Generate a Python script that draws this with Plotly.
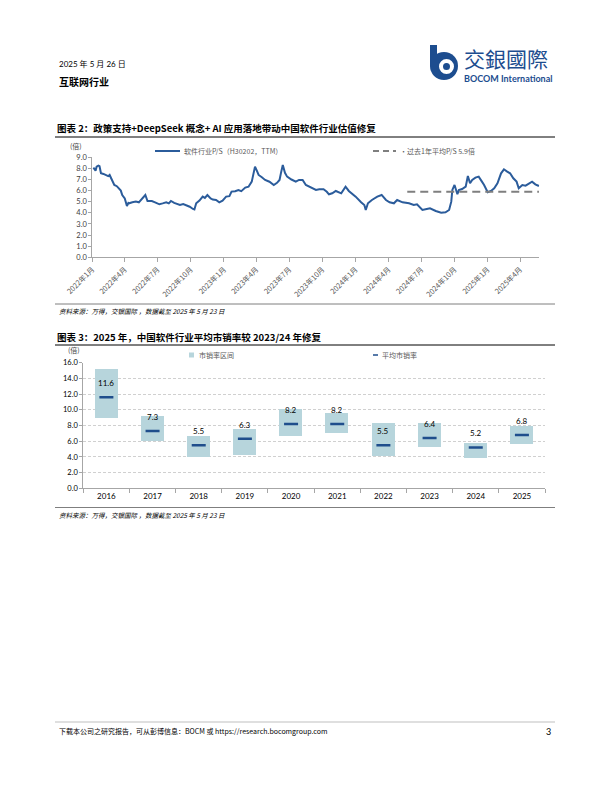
import plotly.graph_objects as go

# ---------------- data: chart 1 (software industry P/S, H30202, TTM) -------------
ps_dates = [
    "2022-01-04", "2022-01-07", "2022-01-10", "2022-01-13", "2022-01-18", "2022-01-21",
    "2022-01-25", "2022-02-01", "2022-02-09", "2022-02-14", "2022-02-18", "2022-02-23",
    "2022-03-03", "2022-03-10", "2022-03-16", "2022-03-21", "2022-03-25", "2022-04-01",
    "2022-04-04", "2022-04-07", "2022-04-11", "2022-04-13", "2022-04-22", "2022-05-02",
    "2022-05-10", "2022-05-19", "2022-05-28", "2022-06-03", "2022-06-15", "2022-06-24",
    "2022-07-06", "2022-07-15", "2022-07-25", "2022-08-01", "2022-08-07", "2022-08-16",
    "2022-09-01", "2022-09-10", "2022-09-19", "2022-09-28", "2022-10-07", "2022-10-11",
    "2022-10-16", "2022-10-25", "2022-11-03", "2022-11-09", "2022-11-16", "2022-11-25",
    "2022-12-01", "2022-12-10", "2022-12-19", "2022-12-28", "2023-01-07", "2023-01-16",
    "2023-01-22", "2023-02-01", "2023-02-10", "2023-02-18", "2023-03-01", "2023-03-10",
    "2023-03-19", "2023-03-23", "2023-03-28", "2023-04-02", "2023-04-07", "2023-04-16",
    "2023-04-25", "2023-05-07", "2023-05-19", "2023-05-28", "2023-06-04", "2023-06-08",
    "2023-06-13", "2023-06-19", "2023-06-25", "2023-07-07", "2023-07-19", "2023-07-28",
    "2023-08-07", "2023-08-16", "2023-08-25", "2023-09-04", "2023-09-13", "2023-09-22",
    "2023-10-04", "2023-10-13", "2023-10-19", "2023-10-28", "2023-11-07", "2023-11-22",
    "2023-12-04", "2023-12-13", "2023-12-22", "2024-01-01", "2024-01-16", "2024-01-25",
    "2024-01-29", "2024-02-04", "2024-02-15", "2024-03-01", "2024-03-13", "2024-03-25",
    "2024-04-04", "2024-04-16", "2024-04-25", "2024-05-10", "2024-05-28", "2024-06-10",
    "2024-06-19", "2024-07-04", "2024-07-16", "2024-07-25", "2024-08-10", "2024-08-25",
    "2024-09-06", "2024-09-16", "2024-09-22", "2024-09-25", "2024-10-01", "2024-10-09",
    "2024-10-13", "2024-10-22", "2024-11-01", "2024-11-07", "2024-11-13", "2024-11-19",
    "2024-11-28", "2024-12-07", "2024-12-16", "2024-12-22", "2025-01-01", "2025-01-10",
    "2025-01-19", "2025-01-28", "2025-02-07", "2025-02-15", "2025-02-24", "2025-03-04",
    "2025-03-13", "2025-03-22", "2025-03-28", "2025-04-07", "2025-04-16", "2025-04-25",
    "2025-05-04", "2025-05-13", "2025-05-23",
]
ps_values = [
    8.07, 7.86, 7.80, 8.16, 8.25, 8.20,
    7.56, 7.50, 7.41, 7.30, 7.41, 7.11,
    6.51, 6.40, 6.21, 6.00, 5.61, 5.30,
    4.95, 4.62, 4.90, 4.86, 4.95, 5.01,
    4.95, 5.31, 5.61, 5.07, 5.07, 4.95,
    4.77, 4.85, 4.95, 4.85, 5.07, 4.90,
    4.71, 4.80, 4.71, 4.55, 4.35, 4.30,
    4.86, 5.10, 5.46, 5.35, 5.61, 5.30,
    5.20, 5.16, 4.95, 5.10, 5.46, 5.50,
    5.91, 5.95, 6.06, 5.95, 6.27, 6.35,
    6.81, 7.50, 8.16, 7.80, 7.41, 7.20,
    6.96, 6.80, 6.51, 6.70, 6.96, 7.60,
    8.31, 7.60, 7.26, 7.00, 6.81, 6.96,
    6.96, 6.51, 6.36, 6.15, 6.06, 6.12,
    6.12, 5.90, 5.67, 5.76, 5.97, 5.76,
    6.36, 5.97, 5.76, 5.46, 4.95, 4.71,
    4.26, 4.86, 5.16, 5.46, 5.61, 5.16,
    4.95, 4.86, 5.16, 4.95, 4.86, 4.71,
    4.77, 4.26, 4.35, 4.41, 4.17, 4.02,
    4.05, 4.26, 5.01, 6.06, 6.51, 5.67,
    6.06, 6.15, 6.36, 7.32, 6.66, 6.96,
    7.17, 7.26, 6.81, 6.51, 5.85, 5.97,
    6.21, 6.66, 7.56, 7.92, 7.71, 7.56,
    7.11, 6.81, 6.21, 6.51, 6.45, 6.66,
    6.81, 6.57, 6.42,
]
avg_dates = ["2024-05-23", "2025-05-23"]
avg_values = [5.9, 5.9]

tick_dates = ["2022-01-01", "2022-04-01", "2022-07-01", "2022-10-01",
              "2023-01-01", "2023-04-01", "2023-07-01", "2023-10-01",
              "2024-01-01", "2024-04-01", "2024-07-01", "2024-10-01",
              "2025-01-01", "2025-04-01"]
tick_labels = ["2022年1月", "2022年4月", "2022年7月", "2022年10月",
               "2023年1月", "2023年4月", "2023年7月", "2023年10月",
               "2024年1月", "2024年4月", "2024年7月", "2024年10月",
               "2025年1月", "2025年4月"]

# ---------------- data: chart 2 (P/S range and average by year) ---------------
years = ["2016", "2017", "2018", "2019", "2020", "2021", "2022", "2023", "2024", "2025"]
ps_low = [9.0, 6.1, 4.0, 4.3, 6.7, 7.1, 4.2, 5.3, 3.9, 5.7]
ps_high = [15.2, 9.2, 6.7, 7.6, 10.1, 9.6, 8.3, 8.3, 5.8, 8.0]
ps_avg = [11.6, 7.3, 5.5, 6.3, 8.2, 8.2, 5.5, 6.4, 5.2, 6.8]

# ---------------- helpers ----------------
OFF = 8              # page body margin offset
W, H = 612 - OFF, 792 - OFF
def px(x):
    return (x - OFF) / W
def py(y):
    return 1 - (y - OFF) / H

CJK = "Noto Sans CJK SC"
LAT = "Lato, 'Noto Sans CJK SC'"
LINE_BLUE = "#2b5c9b"
BOX_COL = "#b7d5dc"
AVG_COL = "#1f4e8c"
LOGO_BLUE = "#1d4d8f"

fig = go.Figure()

# chart 1 traces
fig.add_trace(go.Scatter(x=ps_dates, y=ps_values, mode="lines",
                         line=dict(color=LINE_BLUE, width=2),
                         xaxis="x", yaxis="y", showlegend=False, hoverinfo="skip"))
fig.add_trace(go.Scatter(x=avg_dates, y=avg_values, mode="lines",
                         line=dict(color="#7f7f7f", width=2, dash="8px,5px"),
                         xaxis="x", yaxis="y", showlegend=False, hoverinfo="skip"))

# chart 2 traces
fig.add_trace(go.Bar(x=years, y=[h - l for h, l in zip(ps_high, ps_low)], base=ps_low,
                     width=0.5, marker=dict(color=BOX_COL, line=dict(width=0)),
                     xaxis="x2", yaxis="y2", showlegend=False, hoverinfo="skip"))
fig.add_trace(go.Scatter(x=years, y=ps_avg, mode="markers",
                         marker=dict(symbol="line-ew", size=10,
                                     line=dict(color=AVG_COL, width=2.5)),
                         xaxis="x2", yaxis="y2", showlegend=False, hoverinfo="skip"))

annotations = []
shapes = []

def text(x, y, s, size, color="#000", bold=False, italic=False, anchor="left", family=CJK, yanchor="middle"):
    t = s
    if bold:
        t = "<b>" + t + "</b>"
    if italic:
        t = "<i>" + t + "</i>"
    annotations.append(dict(x=px(x), y=py(y), xref="paper", yref="paper", text=t,
                            showarrow=False, xanchor=anchor, yanchor=yanchor,
                            font=dict(size=size, color=color, family=family)))

def hline(x0, x1, y, color="#000", width=1, dash=None):
    ln = dict(color=color, width=width)
    if dash:
        ln["dash"] = dash
    shapes.append(dict(type="line", xref="paper", yref="paper",
                       x0=px(x0), x1=px(x1), y0=py(y), y1=py(y), line=ln))

# header
text(57, 64, "2025 年 5 月 26 日", 8, family=LAT)
text(57, 81, "互联网行业", 10, bold=True)

# logo
shapes.append(dict(type="circle", xref="paper", yref="paper",
                   x0=px(430), x1=px(458), y0=py(80), y1=py(52),
                   fillcolor=LOGO_BLUE, line=dict(width=0)))
shapes.append(dict(type="rect", xref="paper", yref="paper",
                   x0=px(430), x1=px(437), y0=py(66), y1=py(45),
                   fillcolor=LOGO_BLUE, line=dict(width=0)))
shapes.append(dict(type="circle", xref="paper", yref="paper",
                   x0=px(439), x1=px(454), y0=py(74), y1=py(59),
                   fillcolor="white", line=dict(width=0)))
shapes.append(dict(type="circle", xref="paper", yref="paper",
                   x0=px(443), x1=px(450), y0=py(70), y1=py(63),
                   fillcolor=LOGO_BLUE, line=dict(width=0)))
annotations.append(dict(
    x=px(462), y=py(41), xref="paper", yref="paper", showarrow=False,
    xanchor="left", yanchor="top", align="left",
    text="<span style='font-size:21px'>交銀國際</span><br>"
         "<span style='font-size:9px;font-family:Lato'><b>BOCOM International</b></span>",
    font=dict(size=11.8, color=LOGO_BLUE, family="Noto Sans CJK TC")))

# chart 1 title
text(55, 128, "图表 2：政策支持+DeepSeek 概念+ AI 应用落地带动中国软件行业估值修复", 9.5, bold=True)
hline(55, 555, 137, color="#000", width=1)
text(68, 146, "(倍)", 7, color="#404040")
# chart 1 legend
hline(155, 180, 151, color=LINE_BLUE, width=2)
text(182, 151, "软件行业P/S（H30202，TTM）", 7, color="#595959")
hline(373, 396, 151, color="#7f7f7f", width=2, dash="6px,4px")
text(398, 151, "·过去1年平均P/S 5.9倍", 7, color="#595959")
# chart 1 source
hline(55, 555, 304, color="#7f7f7f", width=1)
text(57, 311, "资料来源：万得，交银国际 ，数据截至 2025 年 5 月 23 日", 6.5, color="#000", italic=True)

# chart 2 title
text(55, 337, "图表 3：2025 年，中国软件行业平均市销率较 2023/24 年修复", 9.5, bold=True)
hline(55, 555, 345, color="#000", width=1)
text(66, 350, "(倍)", 7, color="#404040")
# chart 2 legend
shapes.append(dict(type="rect", xref="paper", yref="paper",
                   x0=px(189), x1=px(194), y0=py(357.5), y1=py(352.5),
                   fillcolor=BOX_COL, line=dict(width=0)))
text(197, 355, "市销率区间", 7, color="#595959")
hline(373, 378, 355, color=AVG_COL, width=1.5)
text(380, 355, "平均市销率", 7, color="#595959")
# avg labels (category index positions)
for i, a in enumerate(ps_avg):
    annotations.append(dict(x=i, y=a, xref="x2", yref="y2", text=f"{a:.1f}",
                            showarrow=False, yshift=14, xanchor="center", yanchor="middle",
                            font=dict(size=8, color="#000", family=LAT)))
# chart 2 source
hline(55, 555, 507.5, color="#7f7f7f", width=1)
text(57, 515, "资料来源：万得，交银国际 ，数据截至 2025 年 5 月 23 日", 6.5, color="#000", italic=True)

# footer
hline(55, 555, 722, color="#bfbfbf", width=1)
text(57, 731, "下载本公司之研究报告，可从彭博信息：BOCM 或 https://research.bocomgroup.com", 7, color="#000")
text(553, 731, "3", 9, color="#000", anchor="right", family=LAT)

axis_common = dict(showgrid=False, zeroline=False, showline=True, linecolor="#a6a6a6",
                   linewidth=1, ticks="outside", tickcolor="#a6a6a6", automargin=False)

fig.update_layout(
    width=W, height=H,
    margin=dict(l=0, r=0, t=0, b=0, pad=0, autoexpand=False),
    paper_bgcolor="white", plot_bgcolor="white",
    showlegend=False,
    bargap=0,
    xaxis=dict(domain=[px(92.3), px(539.3)], anchor="y", type="date",
               range=["2022-01-01", "2025-05-24"],
               tickvals=tick_dates, ticktext=tick_labels, tickangle=-45,
               ticklen=4, tickfont=dict(size=7.3, color="#595959", family=CJK),
               **axis_common),
    yaxis=dict(domain=[py(257.3), py(157.3)], anchor="x", range=[0, 9],
               dtick=1, tickformat=".1f", ticklen=3,
               tickfont=dict(size=7.5, color="#404040", family=LAT),
               **axis_common),
    xaxis2=dict(domain=[px(83.3), px(545)], anchor="y2", type="category",
                range=[-0.5, 9.5], tickson="boundaries", ticklen=4,
                tickfont=dict(size=8, color="#000", family=LAT),
                **axis_common),
    yaxis2=dict(domain=[py(488.3), py(362.7)], anchor="x2", range=[0, 16],
                dtick=2, tickformat=".1f", ticklen=3,
                tickfont=dict(size=7.5, color="#000", family=LAT),
                zeroline=False, showline=True, linecolor="#a6a6a6", linewidth=1,
                ticks="outside", tickcolor="#a6a6a6", automargin=False,
                showgrid=True, gridcolor="#d0d0d0", griddash="3px,2px", gridwidth=1),
    annotations=annotations,
    shapes=shapes,
)

fig.write_html("out.html")
